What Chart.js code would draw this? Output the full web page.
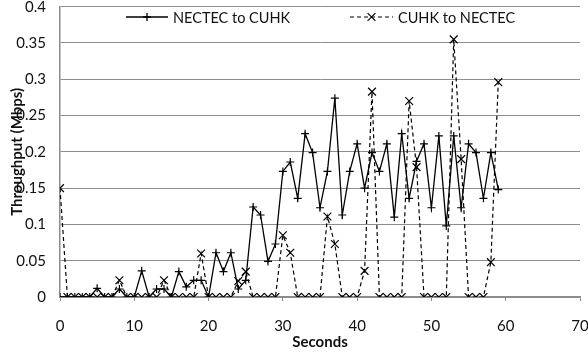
<!DOCTYPE html>
<html>
<head>
<meta charset="utf-8">
<script src="https://cdn.jsdelivr.net/npm/chart.js@4.4.1/dist/chart.umd.min.js"></script>
<style>
  html, body { margin: 0; padding: 0; background: #fff; }
  #wrap { width: 588px; height: 353px; }
</style>
</head>
<body>
<div id="wrap"><canvas id="c" width="588" height="353"></canvas></div>
<script>
// ---- data ----
const seconds = [0,1,2,3,4,5,6,7,8,9,10,11,12,13,14,15,16,17,18,19,20,21,22,23,24,25,26,27,28,29,
  30,31,32,33,34,35,36,37,38,39,40,41,42,43,44,45,46,47,48,49,50,51,52,53,54,55,56,57,58,59];
const nectecToCuhk = [0,0,0,0,0,0.012,0,0,0.011,0,0,0.036,0,0.011,0.011,0,0.035,0.014,0.023,0.023,
  0,0.061,0.035,0.061,0.011,0.023,0.124,0.113,0.049,0.073,
  0.173,0.186,0.136,0.225,0.199,0.123,0.173,0.274,0.113,0.173,
  0.211,0.150,0.199,0.173,0.211,0.110,0.225,0.136,0.187,0.211,
  0.123,0.222,0.098,0.222,0.123,0.211,0.199,0.136,0.199,0.148];
const cuhkToNectec = [0.150,0,0,0,0,0,0,0,0.023,0,0,0,0,0,0.023,0,0,0,0,0.060,
  0,0,0,0,0.022,0.035,0,0,0,0,
  0.085,0.061,0,0,0,0,0.111,0.073,0,0,
  0,0.036,0.283,0,0,0,0,0.270,0.179,0,
  0,0,0,0.355,0.190,0,0,0,0.048,0.296];
const seriesNames = ['NECTEC to CUHK', 'CUHK to NECTEC'];
const xTitle = 'Seconds';
const yTitle = 'Throughput (Mbps)';

const FONT = 'Lato, "Open Sans", sans-serif';
const GRID = '#8c8c8c';

const toPts = arr => arr.map((v, i) => ({x: seconds[i], y: v}));

const legendPlugin = {
  id: 'customLegend',
  afterDraw(chart) {
    const ctx = chart.ctx;
    const items = [
      {x0: 126, x1: 168, tx: 173},
      {x0: 350, x1: 393, tx: 398}
    ];
    const y = 17;
    ctx.save();
    chart.data.datasets.forEach((ds, i) => {
      const it = items[i];
      ctx.strokeStyle = ds.borderColor;
      ctx.lineWidth = ds.borderWidth;
      ctx.setLineDash(ds.borderDash || []);
      ctx.beginPath();
      ctx.moveTo(it.x0, y);
      ctx.lineTo(it.x1, y);
      ctx.stroke();
      ctx.setLineDash([]);
      Chart.helpers.drawPoint(ctx, {pointStyle: ds.pointStyle, radius: ds.pointRadius, borderWidth: ds.pointBorderWidth},
        (it.x0 + it.x1) / 2, y);
      ctx.fillStyle = '#111';
      ctx.font = '14.5px ' + FONT;
      ctx.textBaseline = 'middle';
      ctx.textAlign = 'left';
      ctx.fillText(ds.label, it.tx, y + 1);
    });
    ctx.restore();
  }
};

const fmt = v => String(Number(v.toFixed(2)));

new Chart(document.getElementById('c'), {
  type: 'line',
  data: {
    datasets: [
      {
        label: seriesNames[0],
        data: toPts(nectecToCuhk),
        borderColor: '#000',
        backgroundColor: '#000',
        borderWidth: 1.3,
        pointStyle: 'cross',
        pointRadius: 4,
        pointBorderWidth: 1.2,
        pointBorderColor: '#000',
        tension: 0,
        fill: false
      },
      {
        label: seriesNames[1],
        data: toPts(cuhkToNectec),
        borderColor: '#000',
        backgroundColor: '#000',
        borderWidth: 1.2,
        borderDash: [4, 3],
        pointStyle: 'crossRot',
        pointRadius: 5.5,
        pointBorderWidth: 1.2,
        pointBorderColor: '#000',
        tension: 0,
        fill: false
      }
    ]
  },
  options: {
    responsive: false,
    animation: false,
    devicePixelRatio: 1,
    layout: { padding: { top: 4, right: 8, left: 0, bottom: 0 } },
    plugins: {
      legend: { display: false },
      tooltip: { enabled: false }
    },
    scales: {
      x: {
        type: 'linear',
        min: 0, max: 70,
        afterFit(scale) { scale.height = 56; scale.paddingLeft = 0; scale.paddingRight = 0; },
        ticks: { stepSize: 10, padding: 16, color: '#111', font: { family: FONT, size: 15 } },
        grid: { drawOnChartArea: false, drawTicks: true, tickLength: 4, color: GRID, lineWidth: 1 },
        border: { color: GRID, width: 1.5 },
        title: { display: true, text: xTitle, color: '#111', font: { family: FONT, size: 15, weight: 'bold' }, padding: { top: 0, bottom: 2 } }
      },
      y: {
        min: 0, max: 0.4,
        afterFit(scale) { scale.width = 60; scale.paddingTop = 0; scale.paddingBottom = 0; },
        ticks: { stepSize: 0.05, padding: 14, color: '#111', font: { family: FONT, size: 15 }, callback: fmt },
        grid: { drawTicks: false, color: GRID, lineWidth: 1 },
        border: { color: GRID, width: 1.5 },
        title: { display: true, text: yTitle, color: '#111', font: { family: FONT, size: 15, weight: 'bold' }, padding: { top: 8, bottom: 0 } }
      }
    }
  },
  plugins: [legendPlugin]
});
</script>
</body>
</html>
